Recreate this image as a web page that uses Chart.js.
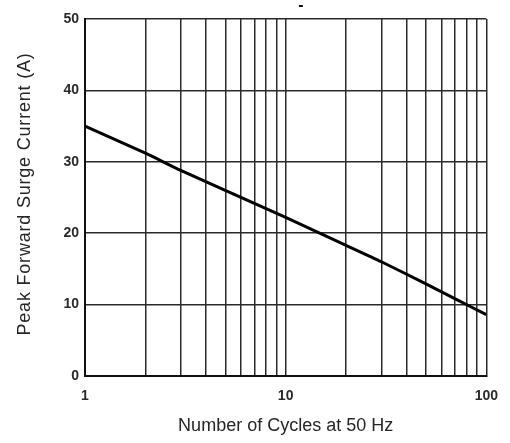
<!DOCTYPE html>
<html>
<head>
<meta charset="utf-8">
<script src="https://cdn.jsdelivr.net/npm/chart.js@4"></script>
<style>
  html, body { margin: 0; padding: 0; background: #fff; }
  #wrap { width: 510px; height: 443px; }
</style>
</head>
<body>
<div id="wrap"><canvas id="surge" width="510" height="443"></canvas></div>
<script>
// --- Data ---
const cycles = [1, 2, 3, 5, 10, 20, 30, 50, 70, 100];
const surgeAmps = [35, 31.2, 28.8, 26.0, 22.2, 18.3, 16.0, 12.9, 10.8, 8.6];

// gridline positions
const xGridTicks = [1, 2, 3, 4, 5, 6, 7, 8, 9, 10, 20, 30, 40, 50, 60, 70, 80, 90, 100];
const xLabelTicks = [1, 10, 100];
const yGridTicks = [0, 10, 20, 30, 40, 50];

const xTitle = 'Number of Cycles at 50 Hz';
const yTitle = 'Peak Forward Surge Current (A)';

const FONT = '"Liberation Sans", Arial, sans-serif';
const GRID = '#2a2a2a';

// titles drawn as text on the canvas so they can sit where the original has them
const titlesPlugin = {
    id: 'titles',
    afterDraw(chart) {
        const ctx = chart.ctx;
        const area = chart.chartArea;
        ctx.save();
        ctx.fillStyle = '#262626';
        ctx.font = '18px ' + FONT;
        ctx.textAlign = 'center';
        ctx.textBaseline = 'middle';
        ctx.fillText(xTitle, (area.left + area.right) / 2, 426);

        ctx.translate(25, 194);
        ctx.rotate(-Math.PI / 2);
        ctx.letterSpacing = '0.8px';
        ctx.fillText(yTitle, 0, 0);
        ctx.restore();

        // small dash above the plot
        ctx.save();
        ctx.fillStyle = '#111';
        ctx.font = 'bold 16px ' + FONT;
        ctx.textAlign = 'center';
        ctx.textBaseline = 'middle';
        ctx.fillText('-', 301, 6);
        ctx.restore();
    }
};

const ctx = document.getElementById('surge').getContext('2d');

new Chart(ctx, {
    type: 'line',
    data: {
        datasets: [{
            data: cycles.map((c, i) => ({ x: c, y: surgeAmps[i] })),
            borderColor: '#000',
            borderWidth: 3,
            pointRadius: 0,
            tension: 0.2,
            fill: false
        }]
    },
    options: {
        responsive: false,
        animation: false,
        layout: { padding: { top: 19, right: 22, left: 0, bottom: 0 } },
        plugins: {
            legend: { display: false },
            tooltip: { enabled: false }
        },
        scales: {
            x: {
                type: 'logarithmic',
                min: 1,
                max: 100,
                afterBuildTicks: scale => {
                    scale.ticks = xGridTicks.map(v => ({ value: v }));
                },
                afterFit: scale => { scale.height = 67; },
                ticks: {
                    autoSkip: false,
                    maxRotation: 0,
                    padding: 12,
                    color: '#2a2a2a',
                    font: { family: FONT, size: 14, weight: 'bold' },
                    callback: v => xLabelTicks.includes(v) ? String(v) : ''
                },
                grid: {
                    color: GRID,
                    lineWidth: 1.5,
                    drawTicks: false
                },
                border: { color: '#111', width: 2 }
            },
            y: {
                min: 0,
                max: 50,
                afterBuildTicks: scale => {
                    scale.ticks = yGridTicks.map(v => ({ value: v }));
                },
                afterFit: scale => { scale.width = 85; },
                ticks: {
                    padding: 6,
                    color: '#2a2a2a',
                    font: { family: FONT, size: 14, weight: 'bold' }
                },
                grid: {
                    color: GRID,
                    lineWidth: 1.5,
                    drawTicks: false
                },
                border: { color: '#111', width: 2 }
            }
        }
    },
    plugins: [titlesPlugin]
});
</script>
</body>
</html>
